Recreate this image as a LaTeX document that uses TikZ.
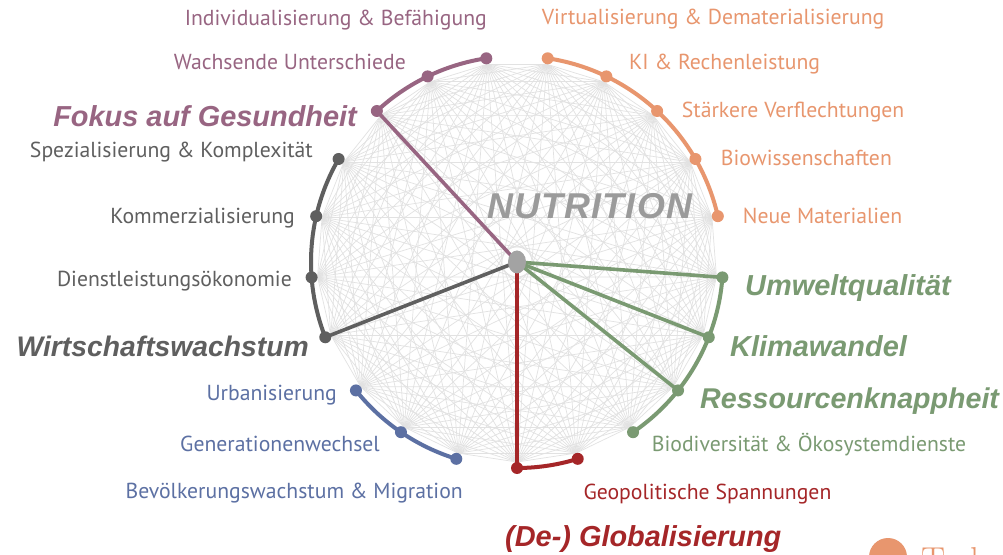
\documentclass[tikz,border=0pt]{standalone}
\usepackage{fontspec}
\usetikzlibrary{shapes.geometric}
\setmainfont{PT Sans}
\newfontfamily\labfont{PT Sans}
\newfontfamily\boldlab{Liberation Sans Bold Italic}
\newfontfamily\nutfont[LetterSpace=3.3]{Liberation Sans Bold Italic}
\newfontfamily\logofont{Latin Modern Roman}
\definecolor{cpurple}{RGB}{152,101,130}
\definecolor{cdark}{RGB}{95,95,95}
\definecolor{cblue}{RGB}{92,112,163}
\definecolor{cred}{RGB}{165,38,40}
\definecolor{cgreen}{RGB}{122,154,114}
\definecolor{corange}{RGB}{232,150,110}
\definecolor{cchord}{RGB}{226,226,226}
\definecolor{cnut}{RGB}{155,155,155}
\definecolor{ccenter}{RGB}{163,163,163}
\tikzset{
  chord/.style={draw=cchord, line width=0.7pt},
  arcline/.style={line width=4pt},
  spoke/.style={line width=3.6pt},
  lab/.style={inner sep=0pt, font=\labfont\fontsize{21.7}{26}\selectfont},
  blab/.style={inner sep=0pt, font=\boldlab\fontsize{28.9}{32}\selectfont},
  labL/.style={lab, anchor=base east},
  labR/.style={lab, anchor=base west},
  blabL/.style={blab, anchor=base east},
  blabR/.style={blab, anchor=base west},
}
\begin{document}
\begin{tikzpicture}[x=1pt,y=1pt]
\useasboundingbox (0,0) rectangle (1003,554);
\clip (0,0) rectangle (1003,554);
\fill[white] (0,0) rectangle (1003,554);
\begin{scope}[shift={(517,292)}]
  \coordinate (C) at (0,0);
  \foreach \k in {0,...,20} {
    \coordinate (p\k) at ({270+\k*360/21}:206);
    \coordinate (q\k) at ({270+\k*360/21}:200);
  }
\end{scope}
% chords
\foreach \i in {0,...,19} {
  \pgfmathtruncatemacro\s{\i+1}
  \foreach \j in {\s,...,20} { \draw[chord] (q\i) -- (q\j); }
}
% spokes
\draw[spoke, cpurple] (C) -- (p13);
\draw[spoke, cdark] (C) -- (p17);
\draw[spoke, cred] (C) -- (p0);
\draw[spoke, cgreen] (C) -- (p3);
\draw[spoke, cgreen] (C) -- (p4);
\draw[spoke, cgreen] (C) -- (p5);
% arcs
\draw[arcline, cpurple] (p11) arc[start angle={270+11*360/21}, end angle={270+13*360/21}, radius=206];
\draw[arcline, cdark] (p14) arc[start angle={270+14*360/21}, end angle={270+17*360/21}, radius=206];
\draw[arcline, cblue] (p18) arc[start angle={270+18*360/21}, end angle={270+20*360/21}, radius=206];
\draw[arcline, cred] (p0) arc[start angle=270, end angle={270+360/21}, radius=206];
\draw[arcline, cgreen] (p2) arc[start angle={270+2*360/21}, end angle={270+5*360/21}, radius=206];
\draw[arcline, corange] (p6) arc[start angle={270+6*360/21}, end angle={270+10*360/21}, radius=206];
% dots
\foreach \k in {11,12,13} { \fill[cpurple] (p\k) circle (6); }
\foreach \k in {14,15,16,17} { \fill[cdark] (p\k) circle (6); }
\foreach \k in {18,19,20} { \fill[cblue] (p\k) circle (6); }
\foreach \k in {0,1} { \fill[cred] (p\k) circle (6); }
\foreach \k in {2,3,4,5} { \fill[cgreen] (p\k) circle (6); }
\foreach \k in {6,7,8,9,10} { \fill[corange] (p\k) circle (6); }
% center
\node[ellipse, fill=ccenter, minimum width=18pt, minimum height=23pt, inner sep=0pt] (nut) at (C) {};
\node[inner sep=0pt, anchor=base west, text=cnut, font=\nutfont\fontsize{35.9}{40}\selectfont] (nutlab) at (487,335.9) {NUTRITION};
% labels left
\node[labL, text=cpurple] (l11) at (487,528.5) {Individualisierung \& Befähigung};
\node[labL, text=cpurple] (l12) at (406,484.5) {Wachsende Unterschiede};
\node[blabL, text=cpurple] (l13) at (357,427.2) {Fokus auf Gesundheit};
\node[labL, text=cdark] (l14) at (313,396.6) {Spezialisierung \& Komplexität};
\node[labL, text=cdark] (l15) at (295,330.8) {Kommerzialisierung};
\node[labL, text=cdark] (l16) at (292,267.4) {Dienstleistungsökonomie};
\node[blabL, text=cdark, font=\boldlab\fontsize{28.3}{32}\selectfont] (l17) at (309,197.7) {Wirtschaftswachstum};
\node[labL, text=cblue] (l18) at (337,153.8) {Urbanisierung};
\node[labL, text=cblue] (l19) at (380,102.7) {Generationenwechsel};
\node[labL, text=cblue] (l20) at (463,55.2) {Bevölkerungswachstum \& Migration};
% labels right
\node[labR, text=corange] (l10) at (541.7,529) {Virtualisierung \& Dematerialisierung};
\node[labR, text=corange] (l9) at (629,484.2) {KI \& Rechenleistung};
\node[labR, text=corange] (l8) at (681.7,436.3) {Stärkere Verflechtungen};
\node[labR, text=corange] (l7) at (720.7,388) {Biowissenschaften};
\node[labR, text=corange] (l6) at (742.7,330.9) {Neue Materialien};
\node[blabR, text=cgreen] (l5) at (745,258.3) {Umweltqualität};
\node[blabR, text=cgreen] (l4) at (730,197.7) {Klimawandel};
\node[blabR, text=cgreen, font=\boldlab\fontsize{28.6}{32}\selectfont] (l3) at (700,145.6) {Ressourcenknappheit};
\node[labR, text=cgreen] (l2) at (651.7,102.6) {Biodiversität \& Ökosystemdienste};
\node[labR, text=cred] (l1) at (583.3,55) {Geopolitische Spannungen};
\node[blabR, text=cred] (l0) at (505,7.5) {(De-) Globalisierung};
% partial logo
\fill[corange] (888,-3) circle (19);
\node[anchor=base west, inner sep=0pt, text=corange, font=\logofont\fontsize{36}{40}\selectfont] (logo) at (921,-18) {Tech};
\end{tikzpicture}
\end{document}
